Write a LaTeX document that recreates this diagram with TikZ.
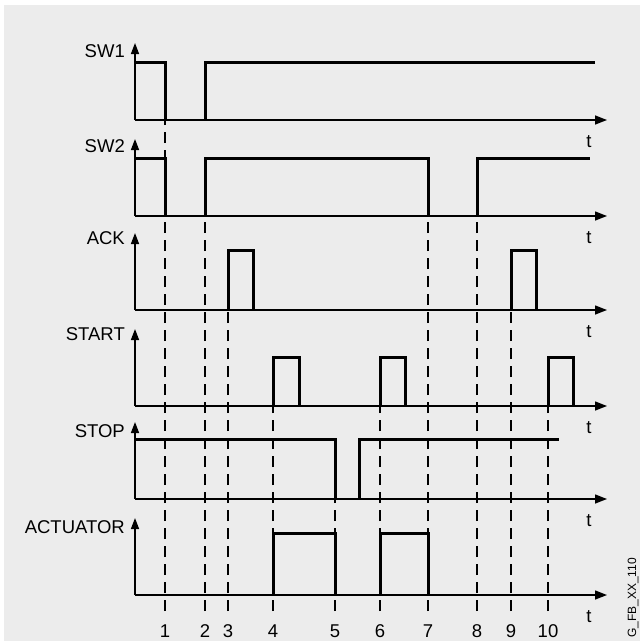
\documentclass[tikz,border=0pt]{standalone}
\usepackage{fontspec}
\setmainfont{Liberation Sans}
\usetikzlibrary{arrows.meta}
\definecolor{panel}{HTML}{ECECEC}
\begin{document}
\begin{tikzpicture}[x=1pt,y=-1pt,
  axis/.style={line width=1.4pt,-{Triangle[length=11pt,width=8pt]}},
  taxis/.style={line width=1.4pt,-{Triangle[length=12pt,width=9pt]}},
  sig/.style={line width=3pt},
  guide/.style={line width=2.4pt,dash pattern=on 11pt off 7pt},
  lbl/.style={font=\fontsize{18.5}{22}\selectfont,inner sep=0pt}]
\useasboundingbox (0,0) rectangle (640,643);
\fill[panel] (4,5) rectangle (640,641);
% guide lines, drawn upwards so the dashes line up
\draw[guide] (165,611)--(165,121);
\draw[guide] (205,611)--(205,216);
\draw[guide] (228,611)--(228,310);
\draw[guide] (273,611)--(273,406);
\draw[guide] (335,611)--(335,499);
\draw[guide] (380,611)--(380,406);
\draw[guide] (428,611)--(428,216);
\draw[guide] (477,611)--(477,216);
\draw[guide] (511,611)--(511,310);
\draw[guide] (548,611)--(548,406);
% SW1
\draw[axis] (135,120)--(135,43);
\draw[taxis] (135,120)--(607,120);
\draw[sig] (135,62)--(165,62)--(165,120);
\draw[sig] (205,120)--(205,62)--(595,62);
\node[lbl,anchor=base east] (sw1) at (125,57) {SW1};
\node[lbl,anchor=base] (t1) at (589,147) {t};
% SW2
\draw[axis] (135,216)--(135,139);
\draw[taxis] (135,216)--(607,216);
\draw[sig] (135,158)--(165,158)--(165,216);
\draw[sig] (205,216)--(205,158)--(428,158)--(428,216);
\draw[sig] (477,216)--(477,158)--(590,158);
\node[lbl,anchor=base east] (sw2) at (125,152) {SW2};
\node[lbl,anchor=base] (t2) at (589,243) {t};
% ACK
\draw[axis] (135,310)--(135,233);
\draw[taxis] (135,310)--(607,310);
\draw[sig] (228,310)--(228,250)--(253,250)--(253,310);
\draw[sig] (511,310)--(511,250)--(536,250)--(536,310);
\node[lbl,anchor=base east] (ack) at (125,244) {ACK};
\node[lbl,anchor=base] (t3) at (589,337) {t};
% START
\draw[axis] (135,406)--(135,329);
\draw[taxis] (135,406)--(607,406);
\draw[sig] (273,406)--(273,357)--(299,357)--(299,406);
\draw[sig] (380,406)--(380,357)--(405,357)--(405,406);
\draw[sig] (548,406)--(548,357)--(573,357)--(573,406);
\node[lbl,anchor=base east] (start) at (125,340) {START};
\node[lbl,anchor=base] (t4) at (589,433) {t};
% STOP
\draw[axis] (135,499)--(135,422);
\draw[taxis] (135,499)--(607,499);
\draw[sig] (135,439)--(335,439)--(335,499);
\draw[sig] (359,499)--(359,439)--(559,439);
\node[lbl,anchor=base east] (stop) at (125,437) {STOP};
\node[lbl,anchor=base] (t5) at (589,526) {t};
% ACTUATOR
\draw[axis] (135,595)--(135,518);
\draw[taxis] (135,595)--(607,595);
\draw[sig] (273,595)--(273,533)--(335,533)--(335,595);
\draw[sig] (380,595)--(380,533)--(428,533)--(428,595);
\node[lbl,anchor=base east] (actuator) at (125,533) {ACTUATOR};
\node[lbl,anchor=base] (t6) at (589,622) {t};
% instants
\node[lbl,anchor=base] (n1) at (165,637) {1};
\node[lbl,anchor=base] (n2) at (205,637) {2};
\node[lbl,anchor=base] (n3) at (228,637) {3};
\node[lbl,anchor=base] (n4) at (273,637) {4};
\node[lbl,anchor=base] (n5) at (335,637) {5};
\node[lbl,anchor=base] (n6) at (380,637) {6};
\node[lbl,anchor=base] (n7) at (428,637) {7};
\node[lbl,anchor=base] (n8) at (477,637) {8};
\node[lbl,anchor=base] (n9) at (511,637) {9};
\node[lbl,anchor=base] (n10) at (548,637) {10};
\node[font=\fontsize{12}{14}\selectfont,inner sep=0pt,rotate=90] (tag) at (633,598) {G\_FB\_XX\_110};
\end{tikzpicture}
\end{document}
